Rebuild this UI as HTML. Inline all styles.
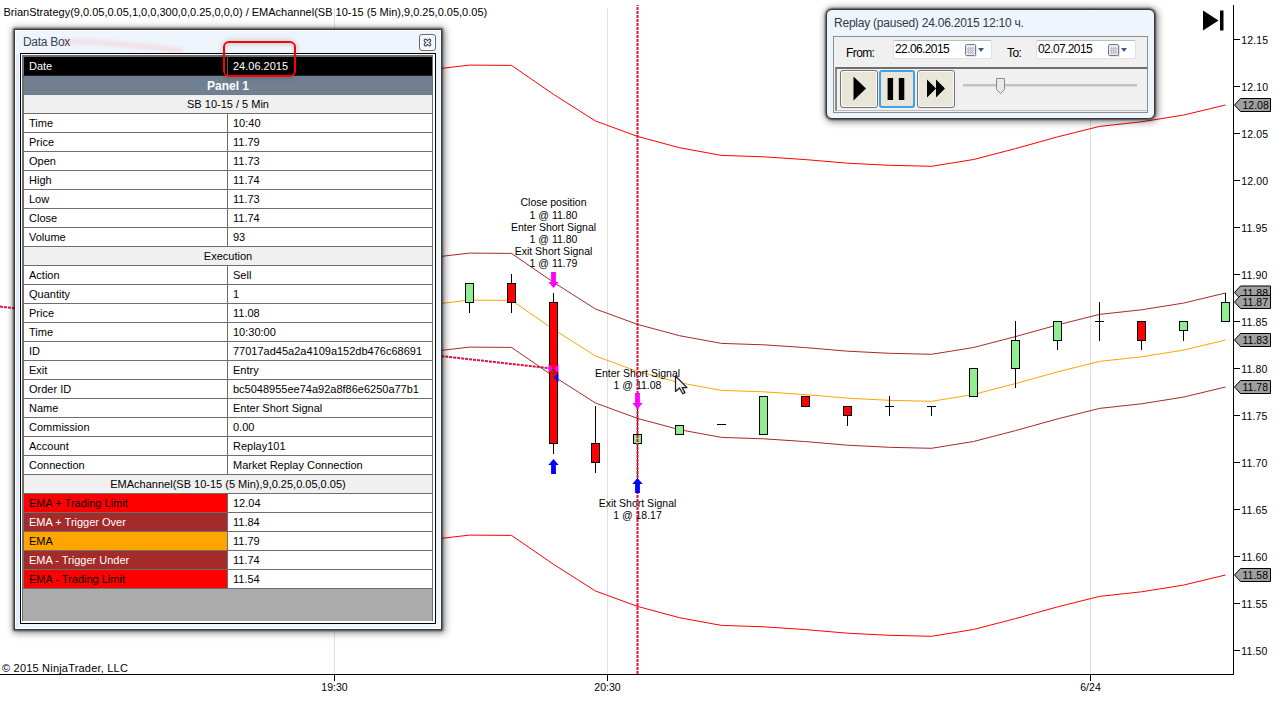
<!DOCTYPE html>
<html><head><meta charset="utf-8"><style>
*{box-sizing:border-box}
html,body{margin:0;padding:0}
body{width:1280px;height:701px;overflow:hidden;background:#fff;position:relative;font-family:"Liberation Sans",sans-serif;font-size:11px;color:#000}
.chart{position:absolute;left:0;top:0}
.win{position:absolute;border:1px solid #3b3b3b;background:#eef5fc;box-shadow:0 0 2px 1px rgba(0,0,0,.6),1px 1px 7px 2px rgba(0,0,0,.45)}
.db{left:14px;top:29px;width:428px;height:601px}
.db .ttl{position:absolute;left:8px;top:5px;font-size:12px;color:#3a4552;letter-spacing:-0.3px}
.db .hl{position:absolute;left:0;top:0;right:0;bottom:0;border:1px solid #fbfdff;border-top-color:#fff}
.db .side{position:absolute;left:1px;top:24px;width:3px;bottom:1px;background:#e3edf9}
.db .xbtn{position:absolute;left:404px;top:4px;width:17px;height:17px;border:1px solid #6a6a6a;border-radius:3px;background:#f3f6fb;box-shadow:inset 0 0 0 1px #fff}
.frame{position:absolute;left:5px;top:23px;width:416px;height:571px;border:1px solid #000;background:#fff}
.tbl{position:absolute;left:1px;top:1px;width:411px;height:566px;background:#ababab;border-left:1px solid #6e6e6e;border-top:2px solid #6e6e6e;border-right:1px solid #6e6e6e}
.row{position:absolute;left:0;width:409px;height:19px;border-bottom:1px solid #6e6e6e;border-left:1px solid #6e6e6e;background:#fff}
.row .k{position:absolute;left:0;top:0;width:204px;height:18px;padding-left:5px;line-height:18px;border-right:1px solid #6e6e6e;white-space:nowrap}
.row .v{position:absolute;left:204px;top:0;width:204px;height:18px;padding-left:5px;line-height:18px;white-space:nowrap}
.row .c{position:absolute;left:0;top:0;width:408px;height:18px;line-height:18px;text-align:center;white-space:nowrap}
.row.date{background:#000;color:#fff;border-bottom-color:#222}
.row.date .k{border-right-color:#555}
.row.panel{background:#708090;color:#fff;font-weight:bold;border-bottom-color:#6e7b8a}
.row.panel .c{font-size:12px;top:1px}
.row.hdr{background:#f0f0f0}
.redbox{position:absolute;left:223px;top:41px;width:73px;height:36px;border:2px solid #f00;border-radius:6px;box-shadow:0 0 6px rgba(0,0,0,.22),inset 0 1px 5px rgba(0,0,0,.18)}
.rp{left:826px;top:9px;width:329px;height:110px;border-radius:6px}
.rp .ttl{position:absolute;left:7px;top:6px;font-size:12px;color:#2f3a47;letter-spacing:-0.23px}
.rp .pnl{position:absolute;left:6px;top:26px;width:315px;height:77px;border:1px solid #8e8e8e;background:#f0f0f0}
.lbl{position:absolute;font-size:12px;color:#000;letter-spacing:-0.6px}
.dt{position:absolute;height:19px;width:99px;background:#fff;border:1px solid #dfe3e8;border-top-color:#b9bdc2;border-radius:2px;font-size:12px;line-height:17px;padding-left:1px;letter-spacing:-0.6px}
.cal{position:absolute;top:3px;width:11px;height:11px;border:1px solid #6d6d6d;border-radius:1px;background:#e8ecf2}
.tri{position:absolute;top:7px;width:0;height:0;border-left:3.5px solid transparent;border-right:3.5px solid transparent;border-top:4px solid #3c5a8c}
.lower{position:absolute;left:1px;top:30px;width:312px;height:44px;border-top:2px solid #6f6f6f;border-left:2px solid #8a8a8a;border-bottom:1px solid #bdbdbd;background:#f0f0f0}
.btn{position:absolute;top:1px;width:38px;height:38px;border:1px solid #737373;border-radius:3px;background:#e7e6d8;box-shadow:inset 0 0 0 1px #fafafa}
.btn.sel{border:2px solid #3fa2e3;box-shadow:none}
</style></head><body>
<svg class="chart" width="1280" height="701"><line x1="334.5" y1="8" x2="334.5" y2="674" stroke="#e0e0e0" stroke-width="1"/><line x1="607.5" y1="8" x2="607.5" y2="674" stroke="#e0e0e0" stroke-width="1"/><line x1="1090.5" y1="8" x2="1090.5" y2="674" stroke="#e0e0e0" stroke-width="1"/><polyline points="427.5,70.0 469.5,65.1 511.5,65.4 553.5,94.3 595.5,121.0 637.5,136.4 679.5,147.7 721.5,155.4 763.5,156.8 805.5,159.6 847.5,163.2 889.5,165.3 931.5,166.3 973.5,159.5 1015.5,148.6 1057.5,136.9 1099.5,126.4 1141.5,121.8 1183.5,115.1 1225.5,105.0" fill="none" stroke="#ff0000" stroke-width="1"/><polyline points="427.5,540.0 469.5,535.1 511.5,535.4 553.5,564.3 595.5,591.0 637.5,606.4 679.5,617.7 721.5,625.4 763.5,626.8 805.5,629.6 847.5,633.2 889.5,635.3 931.5,636.3 973.5,629.5 1015.5,618.6 1057.5,606.9 1099.5,596.4 1141.5,591.8 1183.5,585.1 1225.5,575.0" fill="none" stroke="#ff0000" stroke-width="1"/><polyline points="427.5,258.0 469.5,253.1 511.5,253.4 553.5,282.3 595.5,309.0 637.5,324.4 679.5,335.7 721.5,343.4 763.5,344.8 805.5,347.6 847.5,351.2 889.5,353.3 931.5,354.3 973.5,347.5 1015.5,336.6 1057.5,324.9 1099.5,314.4 1141.5,309.8 1183.5,303.1 1225.5,293.0" fill="none" stroke="#a52a2a" stroke-width="1"/><polyline points="427.5,352.0 469.5,347.1 511.5,347.4 553.5,376.3 595.5,403.0 637.5,418.4 679.5,429.7 721.5,437.4 763.5,438.8 805.5,441.6 847.5,445.2 889.5,447.3 931.5,448.3 973.5,441.5 1015.5,430.6 1057.5,418.9 1099.5,408.4 1141.5,403.8 1183.5,397.1 1225.5,387.0" fill="none" stroke="#a52a2a" stroke-width="1"/><polyline points="427.5,305.0 469.5,300.1 511.5,300.4 553.5,329.3 595.5,356.0 637.5,371.4 679.5,382.7 721.5,390.4 763.5,391.8 805.5,394.6 847.5,398.2 889.5,400.3 931.5,401.3 973.5,394.5 1015.5,383.6 1057.5,371.9 1099.5,361.4 1141.5,356.8 1183.5,350.1 1225.5,340.0" fill="none" stroke="#ffa500" stroke-width="1"/><line x1="0" y1="306.6" x2="553" y2="368.6" stroke="#dc143c" stroke-width="2" stroke-dasharray="3 1"/><line x1="469.5" y1="303" x2="469.5" y2="313" stroke="#000"/><rect x="465.5" y="283.5" width="8" height="19" fill="#90ee90" stroke="#000"/><line x1="511.5" y1="274" x2="511.5" y2="283" stroke="#000"/><line x1="511.5" y1="303" x2="511.5" y2="313" stroke="#000"/><rect x="507.5" y="283.5" width="8" height="19" fill="#ff0000" stroke="#000"/><line x1="553.5" y1="293" x2="553.5" y2="302" stroke="#000"/><line x1="553.5" y1="444" x2="553.5" y2="454" stroke="#000"/><rect x="549.5" y="302.5" width="8" height="141" fill="#ff0000" stroke="#000"/><line x1="595.5" y1="406" x2="595.5" y2="443" stroke="#000"/><line x1="595.5" y1="463" x2="595.5" y2="473" stroke="#000"/><rect x="591.5" y="443.5" width="8" height="19" fill="#ff0000" stroke="#000"/><line x1="637.5" y1="408" x2="637.5" y2="434" stroke="#000"/><line x1="637.5" y1="444" x2="637.5" y2="479" stroke="#000"/><rect x="633.5" y="434.5" width="8" height="9" fill="#90ee90" stroke="#000"/><rect x="675.5" y="425.5" width="8" height="9" fill="#90ee90" stroke="#000"/><line x1="717" y1="424.5" x2="726" y2="424.5" stroke="#000"/><rect x="759.5" y="396.5" width="8" height="38" fill="#90ee90" stroke="#000"/><rect x="801.5" y="396.5" width="8" height="10" fill="#ff0000" stroke="#000"/><line x1="847.5" y1="416" x2="847.5" y2="426" stroke="#000"/><rect x="843.5" y="406.5" width="8" height="9" fill="#ff0000" stroke="#000"/><line x1="889.5" y1="396" x2="889.5" y2="406" stroke="#000"/><line x1="889.5" y1="407" x2="889.5" y2="416" stroke="#000"/><line x1="885" y1="406.5" x2="894" y2="406.5" stroke="#000"/><line x1="931.5" y1="407" x2="931.5" y2="416" stroke="#000"/><line x1="927" y1="406.5" x2="936" y2="406.5" stroke="#000"/><rect x="969.5" y="368.5" width="8" height="28" fill="#90ee90" stroke="#000"/><line x1="1015.5" y1="321" x2="1015.5" y2="340" stroke="#000"/><line x1="1015.5" y1="369" x2="1015.5" y2="388" stroke="#000"/><rect x="1011.5" y="340.5" width="8" height="28" fill="#90ee90" stroke="#000"/><line x1="1057.5" y1="341" x2="1057.5" y2="350" stroke="#000"/><rect x="1053.5" y="321.5" width="8" height="19" fill="#90ee90" stroke="#000"/><line x1="1099.5" y1="302" x2="1099.5" y2="321" stroke="#000"/><line x1="1099.5" y1="322" x2="1099.5" y2="341" stroke="#000"/><line x1="1095" y1="321.5" x2="1104" y2="321.5" stroke="#000"/><line x1="1141.5" y1="341" x2="1141.5" y2="350" stroke="#000"/><rect x="1137.5" y="321.5" width="8" height="19" fill="#ff0000" stroke="#000"/><line x1="1183.5" y1="331" x2="1183.5" y2="341" stroke="#000"/><rect x="1179.5" y="321.5" width="8" height="9" fill="#90ee90" stroke="#000"/><line x1="1225.5" y1="293" x2="1225.5" y2="302" stroke="#000"/><rect x="1221.5" y="302.5" width="8" height="19" fill="#90ee90" stroke="#000"/><path d="M548.5,364 V373 L553.5,368.5 Z M558.5,364 V373 L553.5,368.5 Z" fill="#ff00ff"/><path d="M558.5,373 V382 L553.5,377.5 Z" fill="#0000ff"/><circle cx="553.5" cy="369.5" r="1" fill="#006400"/><circle cx="553.5" cy="373.5" r="1" fill="#006400"/><circle cx="553.5" cy="377" r="0.8" fill="#006400"/><line x1="0" y1="674.5" x2="1234" y2="674.5" stroke="#000"/><line x1="1233.5" y1="5" x2="1233.5" y2="675" stroke="#000"/><line x1="1234" y1="39.5" x2="1240" y2="39.5" stroke="#000"/><line x1="1234" y1="86.5" x2="1240" y2="86.5" stroke="#000"/><line x1="1234" y1="133.5" x2="1240" y2="133.5" stroke="#000"/><line x1="1234" y1="180.5" x2="1240" y2="180.5" stroke="#000"/><line x1="1234" y1="227.5" x2="1240" y2="227.5" stroke="#000"/><line x1="1234" y1="274.5" x2="1240" y2="274.5" stroke="#000"/><line x1="1234" y1="321.5" x2="1240" y2="321.5" stroke="#000"/><line x1="1234" y1="368.5" x2="1240" y2="368.5" stroke="#000"/><line x1="1234" y1="415.5" x2="1240" y2="415.5" stroke="#000"/><line x1="1234" y1="462.5" x2="1240" y2="462.5" stroke="#000"/><line x1="1234" y1="509.5" x2="1240" y2="509.5" stroke="#000"/><line x1="1234" y1="556.5" x2="1240" y2="556.5" stroke="#000"/><line x1="1234" y1="603.5" x2="1240" y2="603.5" stroke="#000"/><line x1="1234" y1="650.5" x2="1240" y2="650.5" stroke="#000"/><line x1="334.5" y1="675" x2="334.5" y2="681" stroke="#000"/><line x1="607.5" y1="675" x2="607.5" y2="681" stroke="#000"/><line x1="1090.5" y1="675" x2="1090.5" y2="681" stroke="#000"/><path d="M1203,10.5 L1218.5,20.5 L1203,30.5 Z" fill="#000"/><rect x="1220" y="10.5" width="3.5" height="20" fill="#000"/><g font-family="Liberation Sans, sans-serif" font-size="11" fill="#000"><text x="1241.3" y="43.5" text-anchor="start" font-size="10.5" letter-spacing="0.15">12.15</text><text x="1241.3" y="90.5" text-anchor="start" font-size="10.5" letter-spacing="0.15">12.10</text><text x="1241.3" y="137.5" text-anchor="start" font-size="10.5" letter-spacing="0.15">12.05</text><text x="1241.3" y="184.5" text-anchor="start" font-size="10.5" letter-spacing="0.15">12.00</text><text x="1241.3" y="231.5" text-anchor="start" font-size="10.5" letter-spacing="0.15">11.95</text><text x="1241.3" y="278.5" text-anchor="start" font-size="10.5" letter-spacing="0.15">11.90</text><text x="1241.3" y="325.5" text-anchor="start" font-size="10.5" letter-spacing="0.15">11.85</text><text x="1241.3" y="372.5" text-anchor="start" font-size="10.5" letter-spacing="0.15">11.80</text><text x="1241.3" y="419.5" text-anchor="start" font-size="10.5" letter-spacing="0.15">11.75</text><text x="1241.3" y="466.5" text-anchor="start" font-size="10.5" letter-spacing="0.15">11.70</text><text x="1241.3" y="513.5" text-anchor="start" font-size="10.5" letter-spacing="0.15">11.65</text><text x="1241.3" y="560.5" text-anchor="start" font-size="10.5" letter-spacing="0.15">11.60</text><text x="1241.3" y="607.5" text-anchor="start" font-size="10.5" letter-spacing="0.15">11.55</text><text x="1241.3" y="654.5" text-anchor="start" font-size="10.5" letter-spacing="0.15">11.50</text><text x="334.5" y="691" text-anchor="middle" font-size="10.5">19:30</text><text x="607.5" y="691" text-anchor="middle" font-size="10.5">20:30</text><text x="1090.5" y="691" text-anchor="middle" font-size="10.5">6/24</text><text x="3.5" y="15.5">BrianStrategy(9,0.05,0.05,1,0,0,300,0,0.25,0,0,0) / EMAchannel(SB 10-15 (5 Min),9,0.25,0.05,0.05)</text><text x="2" y="672" letter-spacing="0.2">© 2015 NinjaTrader, LLC</text><text x="553.5" y="206.3" text-anchor="middle" font-size="10.5">Close position</text><text x="553.5" y="218.5" text-anchor="middle" font-size="10.5">1 @ 11.80</text><text x="553.5" y="230.70000000000002" text-anchor="middle" font-size="10.5">Enter Short Signal</text><text x="553.5" y="242.9" text-anchor="middle" font-size="10.5">1 @ 11.80</text><text x="553.5" y="255.10000000000002" text-anchor="middle" font-size="10.5">Exit Short Signal</text><text x="553.5" y="267.3" text-anchor="middle" font-size="10.5">1 @ 11.79</text><text x="637.5" y="376.8" text-anchor="middle" font-size="10.5">Enter Short Signal</text><text x="637.5" y="388.5" text-anchor="middle" font-size="10.5">1 @ 11.08</text><text x="637.5" y="506.8" text-anchor="middle" font-size="10.5">Exit Short Signal</text><text x="637.5" y="518.8" text-anchor="middle" font-size="10.5">1 @ 18.17</text><path d="M1234.5,105 L1240.5,98.5 H1270.5 V111.5 H1240.5 Z" fill="#a0a0a0" stroke="#000"/><text x="1242.5" y="109" font-size="10.5">12.08</text><path d="M1234.5,292.5 L1240.5,286.0 H1270.5 V299.0 H1240.5 Z" fill="#a0a0a0" stroke="#000"/><text x="1242.5" y="296.5" font-size="10.5">11.88</text><path d="M1234.5,302 L1240.5,295.5 H1270.5 V308.5 H1240.5 Z" fill="#a0a0a0" stroke="#000"/><text x="1242.5" y="306" font-size="10.5">11.87</text><path d="M1234.5,340 L1240.5,333.5 H1270.5 V346.5 H1240.5 Z" fill="#a0a0a0" stroke="#000"/><text x="1242.5" y="344" font-size="10.5">11.83</text><path d="M1234.5,387 L1240.5,380.5 H1270.5 V393.5 H1240.5 Z" fill="#a0a0a0" stroke="#000"/><text x="1242.5" y="391" font-size="10.5">11.78</text><path d="M1234.5,575 L1240.5,568.5 H1270.5 V581.5 H1240.5 Z" fill="#a0a0a0" stroke="#000"/><text x="1242.5" y="579" font-size="10.5">11.58</text></g><line x1="637.5" y1="5" x2="637.5" y2="674" stroke="#dc143c" stroke-width="2" stroke-dasharray="3 1" stroke-dashoffset="2"/><path d="M551.1,272 H555.9 V282 H558.7 L553.5,288 L548.3,282 H551.1 Z" fill="#ff00ff"/><path d="M635.1,393 H639.9 V403 H642.7 L637.5,409 L632.3,403 H635.1 Z" fill="#ff00ff"/><path d="M553.5,459 L558.7,465 H555.9 V474 H551.1 V465 H548.3 Z" fill="#0000ff"/><path d="M637.5,478 L642.7,484 H639.9 V493 H635.1 V484 H632.3 Z" fill="#0000ff"/></svg>
<div class="win db"><div class="hl"></div><div class="side"></div>
<svg width="427" height="24" style="position:absolute;left:0;top:0"><defs><filter id="bl" x="-20%" y="-100%" width="140%" height="300%"><feGaussianBlur stdDeviation="2.2"/></filter></defs><path d="M46,11 Q100,12 168,21" stroke="#ff5a5a" stroke-width="3.5" fill="none" opacity=".22" filter="url(#bl)"/></svg><div class="ttl">Data Box</div>
<div class="xbtn"><svg width="15" height="15" style="position:absolute;left:0;top:0"><path d="M5.5,5.5 L9.5,9.5 M9.5,5.5 L5.5,9.5" stroke="#3a3a52" stroke-width="3.6" stroke-linecap="round"/><path d="M5.5,5.5 L9.5,9.5 M9.5,5.5 L5.5,9.5" stroke="#fff" stroke-width="1.6" stroke-linecap="round"/></svg></div>
<div class="frame"><div class="tbl"><div class="row date" style="top:0px"><div class="k">Date</div><div class="v">24.06.2015</div></div><div class="row panel" style="top:19px"><div class="c">Panel 1</div></div><div class="row hdr" style="top:38px"><div class="c">SB 10-15 / 5 Min</div></div><div class="row kv" style="top:57px"><div class="k">Time</div><div class="v">10:40</div></div><div class="row kv" style="top:76px"><div class="k">Price</div><div class="v">11.79</div></div><div class="row kv" style="top:95px"><div class="k">Open</div><div class="v">11.73</div></div><div class="row kv" style="top:114px"><div class="k">High</div><div class="v">11.74</div></div><div class="row kv" style="top:133px"><div class="k">Low</div><div class="v">11.73</div></div><div class="row kv" style="top:152px"><div class="k">Close</div><div class="v">11.74</div></div><div class="row kv" style="top:171px"><div class="k">Volume</div><div class="v">93</div></div><div class="row hdr" style="top:190px"><div class="c">Execution</div></div><div class="row kv" style="top:209px"><div class="k">Action</div><div class="v">Sell</div></div><div class="row kv" style="top:228px"><div class="k">Quantity</div><div class="v">1</div></div><div class="row kv" style="top:247px"><div class="k">Price</div><div class="v">11.08</div></div><div class="row kv" style="top:266px"><div class="k">Time</div><div class="v">10:30:00</div></div><div class="row kv" style="top:285px"><div class="k">ID</div><div class="v">77017ad45a2a4109a152db476c68691</div></div><div class="row kv" style="top:304px"><div class="k">Exit</div><div class="v">Entry</div></div><div class="row kv" style="top:323px"><div class="k">Order ID</div><div class="v">bc5048955ee74a92a8f86e6250a77b1</div></div><div class="row kv" style="top:342px"><div class="k">Name</div><div class="v">Enter Short Signal</div></div><div class="row kv" style="top:361px"><div class="k">Commission</div><div class="v">0.00</div></div><div class="row kv" style="top:380px"><div class="k">Account</div><div class="v">Replay101</div></div><div class="row kv" style="top:399px"><div class="k">Connection</div><div class="v">Market Replay Connection</div></div><div class="row hdr" style="top:418px"><div class="c">EMAchannel(SB 10-15 (5 Min),9,0.25,0.05,0.05)</div></div><div class="row kv" style="top:437px"><div class="k" style="background:#ff0000;color:#000">EMA + Trading Limit</div><div class="v">12.04</div></div><div class="row kv" style="top:456px"><div class="k" style="background:#a52a2a;color:#fff">EMA + Trigger Over</div><div class="v">11.84</div></div><div class="row kv" style="top:475px"><div class="k" style="background:#ffa500;color:#000">EMA</div><div class="v">11.79</div></div><div class="row kv" style="top:494px"><div class="k" style="background:#a52a2a;color:#fff">EMA - Trigger Under</div><div class="v">11.74</div></div><div class="row kv" style="top:513px"><div class="k" style="background:#ff0000;color:#000">EMA - Trading Limit</div><div class="v">11.54</div></div></div></div>
</div>
<div class="redbox"></div>
<div class="win rp"><div class="hl"></div>
<div class="ttl">Replay (paused) 24.06.2015 12:10 ч.</div>
<div class="pnl">
 <div class="lbl" style="left:12px;top:9px">From:</div>
 <div class="dt" style="left:59px;top:3px">22.06.2015<svg width="12" height="13" style="position:absolute;left:71px;top:3px"><rect x="1.5" y="1.5" width="10" height="11" fill="#9a9a9a" opacity=".5"/><rect x="0.5" y="0.5" width="10" height="11" rx="1" fill="#e6eaf0" stroke="#7a7a7a"/><path d="M2,4.5 H9 M2,6.5 H9 M2,8.5 H9 M3.5,3 V10 M5.5,3 V10 M7.5,3 V10" stroke="#b9c3d3" stroke-width="1"/></svg><div class="tri" style="left:84px"></div></div>
 <div class="lbl" style="left:173px;top:9px">To:</div>
 <div class="dt" style="left:202px;top:3px;width:100px">02.07.2015<svg width="12" height="13" style="position:absolute;left:71px;top:3px"><rect x="1.5" y="1.5" width="10" height="11" fill="#9a9a9a" opacity=".5"/><rect x="0.5" y="0.5" width="10" height="11" rx="1" fill="#e6eaf0" stroke="#7a7a7a"/><path d="M2,4.5 H9 M2,6.5 H9 M2,8.5 H9 M3.5,3 V10 M5.5,3 V10 M7.5,3 V10" stroke="#b9c3d3" stroke-width="1"/></svg><div class="tri" style="left:84px"></div></div>
 <div class="lower">
  <div class="btn" style="left:3px;width:38px"><svg width="36" height="36" style="position:absolute;left:0;top:0"><path d="M12.5,5.5 L25,17.5 L12.5,29.5 Z" fill="#000"/></svg></div>
  <div class="btn sel" style="left:42px;width:36px"><svg width="34" height="34" style="position:absolute;left:0;top:0"><rect x="6.6" y="6" width="5.5" height="22" fill="#000"/><rect x="17.8" y="6" width="5.5" height="22" fill="#000"/></svg></div>
  <div class="btn" style="left:80px"><svg width="36" height="36" style="position:absolute;left:0;top:0"><path d="M9,8.5 L18,17.5 L9,26.5 Z M18,8.5 L27,17.5 L18,26.5 Z" fill="#000"/></svg></div>
  <div style="position:absolute;left:126px;top:15px;width:174px;height:3px;background:#c2c2c2;border-bottom:1px solid #dadada"></div>
  <svg width="12" height="20" style="position:absolute;left:158px;top:8px"><path d="M1.5,1.5 H9.5 V12.5 L5.5,16.5 L1.5,12.5 Z" fill="#e9e9e9" stroke="#8a8a8a"/></svg>
 </div>
</div>
</div>
<svg width="1280" height="701" style="position:absolute;left:0;top:0;pointer-events:none"><defs><linearGradient id="cg" x1="0" y1="0" x2="1" y2="1"><stop offset="0" stop-color="#fff"/><stop offset="1" stop-color="#e2e2e2"/></linearGradient></defs><path d="M675.5,376 L675.5,391.5 L679.5,388 L682.8,393.8 L685,392.6 L682.2,387.6 L687,387.6 Z" fill="url(#cg)" stroke="#1c1c2c" stroke-width="1.2" stroke-linejoin="round"/></svg>
</body></html>
